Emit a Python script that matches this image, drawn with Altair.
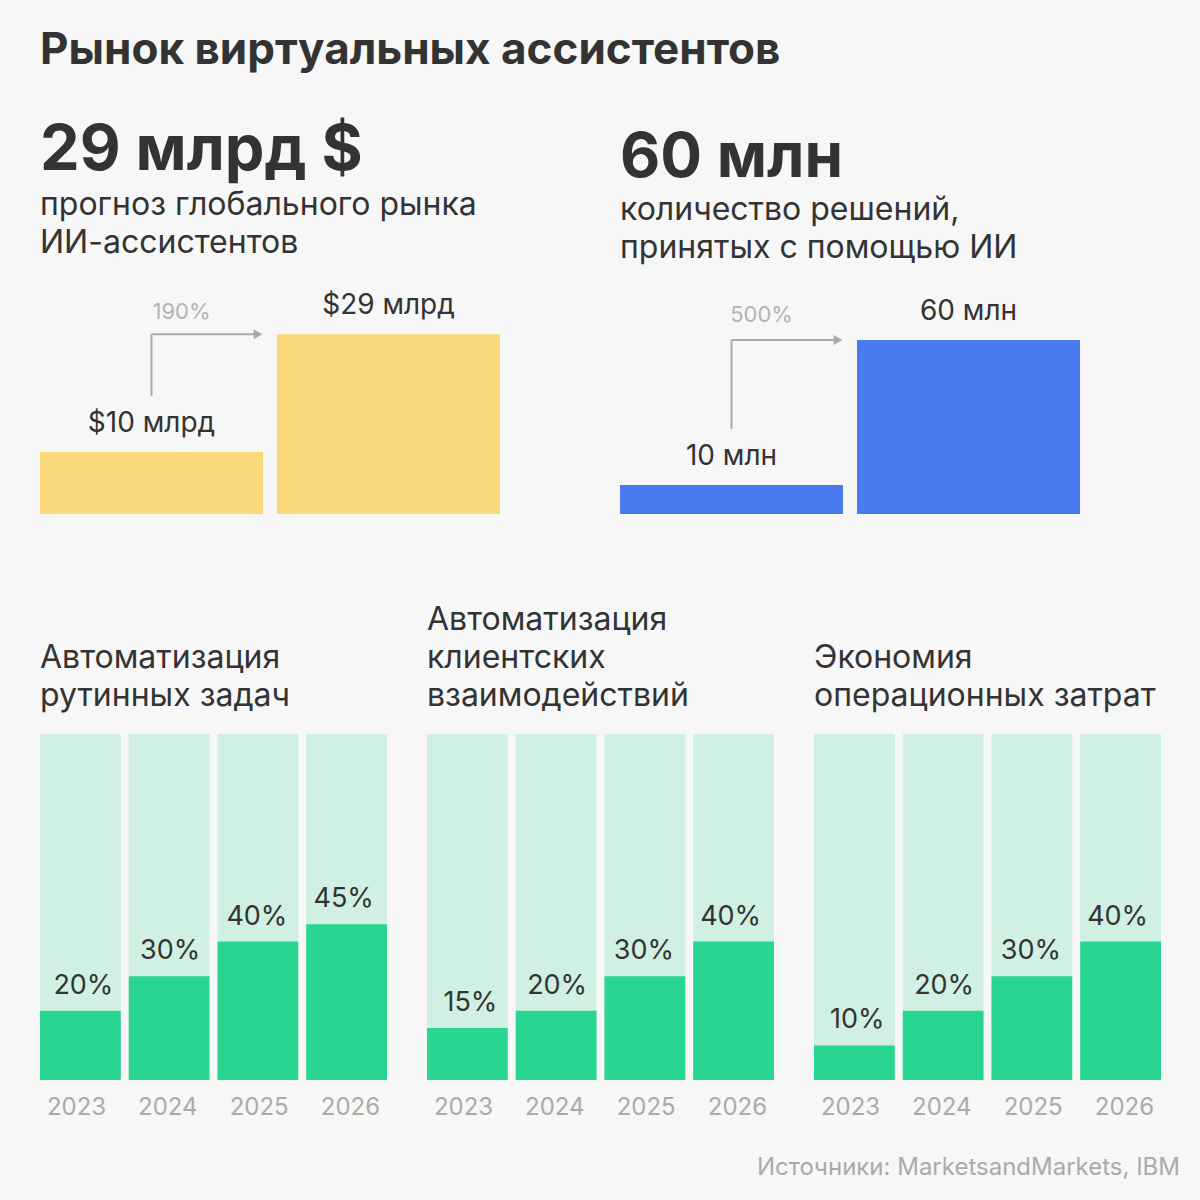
import altair as alt
import pandas as pd

# ---------------- data ----------------
TITLE = "Рынок виртуальных ассистентов"

market_cats = ["сейчас", "прогноз"]
market_values = [10, 29]
market_labels = ["$10 млрд", "$29 млрд"]
market_growth = "190%"
market_head = "29 млрд $"
market_sub = ["прогноз глобального рынка", "ИИ-ассистентов"]

decision_cats = ["было", "стало"]
decision_values = [10, 60]
decision_labels = ["10 млн", "60 млн"]
decision_growth = "500%"
decision_head = "60 млн"
decision_sub = ["количество решений,", "принятых с помощью ИИ"]

years = ["2023", "2024", "2025", "2026"]
panel_titles = [
    ["Автоматизация", "рутинных задач"],
    ["Автоматизация", "клиентских", "взаимодействий"],
    ["Экономия", "операционных затрат"],
]
routine_tasks = [20, 30, 40, 45]
customer_interactions = [15, 20, 30, 40]
cost_savings = [10, 20, 30, 40]
panel_values = [routine_tasks, customer_interactions, cost_savings]

SOURCE = "Источники: MarketsandMarkets, IBM"

# ---------------- style ----------------
FONT = "Inter"
TEXT = "#333333"
GRAY = "#aaaaaa"
BG = "#f7f7f7"
YELLOW = "#f9d97a"
BLUE = "#497bef"
GREEN = "#29d68f"
LIGHT = "#cff0e2"


def text_view(df, **mark):
    return alt.Chart(df).mark_text(font=FONT, **mark)


def top_panel(cats, values, labels, growth, head, head_size, head_y, sub, sub_y,
              color, px_per_unit, pct_dy):
    W, H = 460, 424
    df = pd.DataFrame({"cat": cats, "value": values, "label": labels})
    xs = alt.Scale(domain=cats, paddingInner=14 / 237, paddingOuter=0)
    ys = alt.Scale(domain=[0, H / px_per_unit], zero=False, nice=False)
    x = alt.X("cat:N", scale=xs, axis=None)
    xc = alt.X("cat:N", scale=xs, axis=None, bandPosition=0.5)
    xe = alt.X("cat:N", scale=xs, axis=None, bandPosition=1)
    y = alt.Y("value:Q", scale=ys, axis=None)

    bars = alt.Chart(df).mark_bar(color=color).encode(x=x, y=y, y2=alt.datum(0))
    lbl = text_view(df, dy=-20, baseline="alphabetic", fontSize=28, color=TEXT).encode(
        x=xc, y=y, text="label:N")

    arrow_df = pd.DataFrame({
        "cat": [cats[0]],
        "top": [values[1]],
        "base": [values[0] + 56 / px_per_unit],
        "pct": [growth],
    })
    ytop = alt.Y("top:Q", scale=ys, axis=None)
    vert = alt.Chart(arrow_df).mark_rule(color=GRAY, strokeWidth=2).encode(
        x=xc, y=alt.Y("base:Q", scale=ys, axis=None), y2="top:Q")
    horiz = alt.Chart(arrow_df).mark_rule(color=GRAY, strokeWidth=2, x2Offset=-8).encode(
        x=xc, x2=alt.X2("cat:N", bandPosition=1), y=ytop)
    tip = alt.Chart(arrow_df).mark_point(shape="triangle-right", filled=True, size=100,
                                         color=GRAY, opacity=1, xOffset=-5).encode(x=xe, y=ytop)
    pct = text_view(arrow_df, dx=30, dy=pct_dy, baseline="alphabetic", fontSize=22,
                    color="#b3b3b3").encode(x=xc, y=ytop, text="pct:N")

    hdf = pd.DataFrame({"t": [head]})
    headline = text_view(hdf, align="left", baseline="alphabetic", fontSize=head_size,
                         fontWeight="bold", color=TEXT).encode(
        x=alt.value(0), y=alt.value(head_y), text="t:N")
    sdf = pd.DataFrame({"t": ["\n".join(sub)]})
    subtitle = text_view(sdf, align="left", baseline="alphabetic", fontSize=32,
                         color=TEXT, lineBreak="\n", lineHeight=38).encode(
        x=alt.value(0), y=alt.value(sub_y), text="t:N")

    return alt.layer(bars, lbl, vert, horiz, tip, pct, headline, subtitle).properties(
        width=W, height=H)


def bottom_panel(title_lines, values):
    W, H, base, ppu = 347, 626, 566, 3.46
    df = pd.DataFrame({
        "year": years,
        "value": values,
        "full": [100] * len(years),
        "label": [f"{v}%" for v in values],
    })
    xs = alt.Scale(domain=years, paddingInner=0.09, paddingOuter=0)
    ys = alt.Scale(domain=[-(H - base) / ppu, base / ppu], zero=False, nice=False)
    x = alt.X("year:N", scale=xs, axis=None)
    y = alt.Y("value:Q", scale=ys, axis=None)

    bg = alt.Chart(df).mark_bar(color=LIGHT).encode(
        x=x, y=alt.Y("full:Q", scale=ys, axis=None), y2=alt.datum(0))
    fg = alt.Chart(df).mark_bar(color=GREEN).encode(x=x, y=y, y2=alt.datum(0))
    lbl = text_view(df, dy=-17, baseline="alphabetic", fontSize=27, color=TEXT).encode(
        x=x, y=y, text="label:N")
    yrs = text_view(df, baseline="alphabetic", fontSize=24, color=GRAY).encode(
        x=alt.X("year:N", scale=alt.Scale(type="point", domain=years, padding=0.4),
                axis=None),
        y=alt.value(601), text="year:N")
    n = len(title_lines)
    tdf = pd.DataFrame({"t": ["\n".join(title_lines)]})
    ttl = text_view(tdf, align="left", baseline="alphabetic", fontSize=32, color=TEXT,
                    lineBreak="\n", lineHeight=38).encode(
        x=alt.value(0), y=alt.value(192 - 38 * (n - 1)), text="t:N")
    return alt.layer(bg, fg, lbl, yrs, ttl).resolve_scale(x="independent").properties(
        width=W, height=H)


row_title = text_view(pd.DataFrame({"t": [TITLE]}), align="left", baseline="alphabetic",
                      fontSize=44, fontWeight="bold", color=TEXT).encode(
    x=alt.value(0), y=alt.value(64), text="t:N").properties(width=1160, height=90)

left = top_panel(market_cats, market_values, market_labels, market_growth, market_head,
                 63, 80, market_sub, 125, YELLOW, 6.2, -15)
right = top_panel(decision_cats, decision_values, decision_labels, decision_growth,
                  decision_head, 62, 87, decision_sub, 130, BLUE, 2.9, -18)
row_top = alt.hconcat(left, right, spacing=120)

row_bottom = alt.hconcat(*[bottom_panel(t, v) for t, v in zip(panel_titles, panel_values)],
                         spacing=40)

row_source = text_view(pd.DataFrame({"t": [SOURCE]}), align="right", baseline="alphabetic",
                       fontSize=24, color=GRAY).encode(
    x=alt.value(1140), y=alt.value(35), text="t:N").properties(width=1160, height=60)

chart = alt.vconcat(row_title, row_top, row_bottom, row_source, spacing=0).properties(
    padding={"left": 40, "top": 0, "right": 0, "bottom": 0}
).configure(background=BG).configure_view(strokeWidth=0)

chart.save("out.html", embed_options={"renderer": "svg", "actions": False})
